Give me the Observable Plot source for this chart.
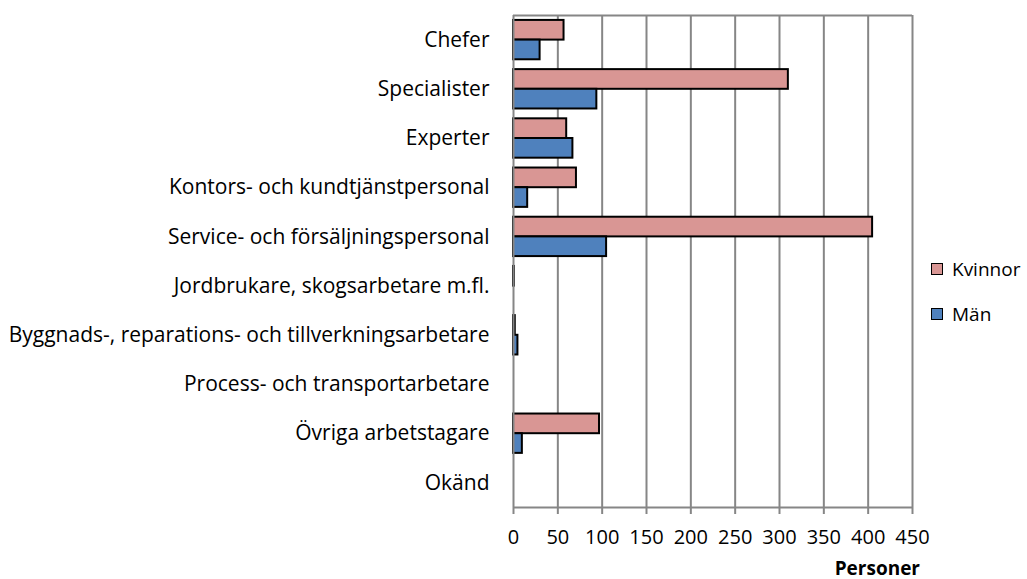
<!DOCTYPE html>
<html>
<head>
<meta charset="utf-8">
<script src="https://cdn.jsdelivr.net/npm/d3@7"></script>
<script src="https://cdn.jsdelivr.net/npm/@observablehq/plot@0.6"></script>
<style>
  html, body { margin: 0; padding: 0; background: #fff; }
  #wrap { position: relative; width: 1027px; height: 579px; font-family: "Open Sans", sans-serif; }
  #wrap svg { position: absolute; left: 0; top: 0; }
  .legend { position: absolute; left: 931px; font-size: 19px; color: #000; display: flex; align-items: center; }
  .legend .sw { width: 10px; height: 10px; border: 1px solid #000; margin-right: 9px; }
  .xlabel { position: absolute; right: 107px; top: 555px; height: 26px; line-height: 26px; font-size: 19px; font-weight: bold; color: #000; }
</style>
</head>
<body>
<div id="wrap"></div>
<script>
const categories = [
  "Chefer",
  "Specialister",
  "Experter",
  "Kontors- och kundtjänstpersonal",
  "Service- och försäljningspersonal",
  "Jordbrukare, skogsarbetare m.fl.",
  "Byggnads-, reparations- och tillverkningsarbetare",
  "Process- och transportarbetare",
  "Övriga arbetstagare",
  "Okänd"
];
const kvinnor = [57, 310, 60, 71, 405, 1, 2, 0, 97, 0];
const man = [30, 94, 67, 16, 105, 0, 5, 0, 10, 0];
const seriesNames = ["Kvinnor", "Män"];
const seriesColors = ["#D99694", "#4F81BD"];
const xTicks = [0, 50, 100, 150, 200, 250, 300, 350, 400, 450];
const xLabel = "Personer";

const rows = [];
categories.forEach((c, i) => {
  rows.push({cat: c, idx: i, serie: "Kvinnor", value: kvinnor[i], y1: i - 0.4, y2: i});
  rows.push({cat: c, idx: i, serie: "Män", value: man[i], y1: i, y2: i + 0.4});
});
const idx = categories.map((c, i) => i);

const chart = Plot.plot({
  width: 1027,
  height: 579,
  marginLeft: 513,
  marginRight: 115,
  marginTop: 15,
  marginBottom: 72,
  style: {fontFamily: "'Open Sans', sans-serif", fontSize: "20px", color: "#000", background: "#fff"},
  x: {domain: [0, 450], ticks: xTicks},
  y: {domain: [-0.5, 9.5], reverse: true},
  color: {domain: seriesNames, range: seriesColors},
  marks: [
    Plot.ruleX(xTicks.slice(1), {stroke: "#868686", strokeWidth: 2}),
    Plot.ruleY([-0.5], {stroke: "#868686", strokeWidth: 2}),
    Plot.rectX(rows.filter(d => d.value > 0), {x1: 0, x2: "value", y1: "y1", y2: "y2", fill: "serie", stroke: "#000", strokeWidth: 2}),
    Plot.ruleX([0], {stroke: "#868686", strokeWidth: 2}),
    Plot.ruleY([9.5], {stroke: "#868686", strokeWidth: 2}),
    Plot.axisX({ticks: xTicks, tickSize: 7, tickPadding: 15, stroke: "#868686", strokeWidth: 2, strokeOpacity: 1,
      label: null, fontSize: 20}),
    Plot.axisY(idx, {tickSize: 0, tickPadding: 24, tickFormat: i => categories[i], label: null, fontSize: 21})
  ]
});
const wrap = document.getElementById("wrap");
wrap.appendChild(chart);

const xl = document.createElement("div");
xl.className = "xlabel";
xl.textContent = xLabel;
wrap.appendChild(xl);

const legendY = [269, 314];
seriesNames.forEach((s, i) => {
  const d = document.createElement("div");
  d.className = "legend";
  d.style.top = (legendY[i] - 13) + "px";
  d.style.height = "26px";
  d.innerHTML = `<span class="sw" style="background:${seriesColors[i]}"></span><span>${s}</span>`;
  wrap.appendChild(d);
});
</script>
</body>
</html>
